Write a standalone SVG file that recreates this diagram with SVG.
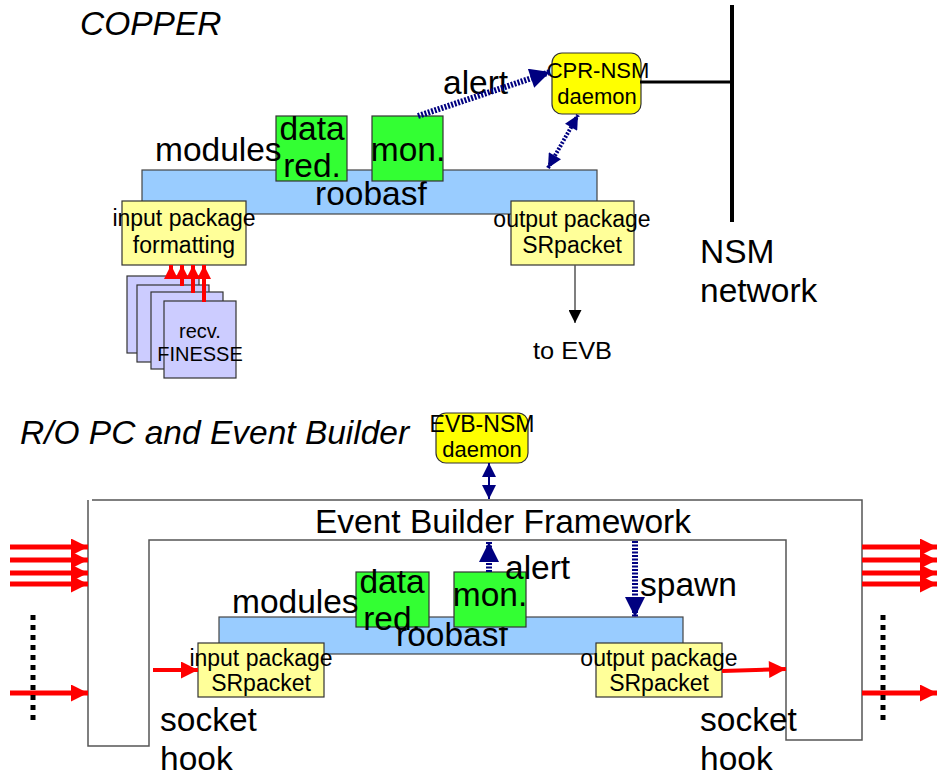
<svg xmlns="http://www.w3.org/2000/svg" width="937" height="778" viewBox="0 0 937 778">
<style>
text{font-family:"Liberation Sans",Arial,sans-serif;fill:#000}
.big{font-size:33.5px}
.mid{font-size:23px}
.dm{font-size:22px}
.sm{font-size:20px}
.it{font-style:italic}
.bar{fill:#99ccff;stroke:#444;stroke-width:1.2}
.mod{fill:#33ff33;stroke:#333;stroke-width:1.2}
.pkg{fill:#ffff99;stroke:#333;stroke-width:1.2}
.dmn{fill:#ffff00;stroke:#333;stroke-width:1.2}
.recv{fill:#ccccff;stroke:#333;stroke-width:1.2}
.red{stroke:#ff0000;fill:none}
.navy{stroke:#000080;fill:none}
.frame{fill:none;stroke:#555;stroke-width:1.5}
</style>
<defs>
<marker id="nav" viewBox="0 0 10 10" refX="10" refY="5" markerWidth="22" markerHeight="20" markerUnits="userSpaceOnUse" orient="auto-start-reverse"><path d="M0,0L10,5L0,10z" fill="#000080"/></marker>
<marker id="navs" viewBox="0 0 10 10" refX="10" refY="5" markerWidth="18" markerHeight="14" markerUnits="userSpaceOnUse" orient="auto-start-reverse"><path d="M0,0L10,5L0,10z" fill="#000080"/></marker>
<marker id="redL" viewBox="0 0 10 10" refX="10" refY="5" markerWidth="28" markerHeight="17" markerUnits="userSpaceOnUse" orient="auto"><path d="M0,0L10,5L0,10z" fill="#ff0000"/></marker>
<marker id="redS" viewBox="0 0 10 10" refX="10" refY="5" markerWidth="15" markerHeight="14" markerUnits="userSpaceOnUse" orient="auto"><path d="M0,0L10,5L0,10z" fill="#ff0000"/></marker>
<marker id="blk" viewBox="0 0 10 10" refX="10" refY="5" markerWidth="22" markerHeight="13" markerUnits="userSpaceOnUse" orient="auto"><path d="M0,0L10,5L0,10z" fill="#000"/></marker>
</defs>

<!-- titles -->
<text class="big it" x="80" y="35">COPPER</text>
<text class="big it" x="20" y="444">R/O PC and Event Builder</text>

<!-- NSM network -->
<g id="nsm-network">
<line x1="732" y1="5" x2="732" y2="222" stroke="#000" stroke-width="4"/>
<text class="big" x="700" y="263">NSM</text>
<text class="big" x="700" y="302">network</text>
</g>

<!-- ===== COPPER ===== -->
<g id="roobasf-top">
<rect class="bar" x="142" y="170" width="455" height="44"/>
<text class="big" x="315" y="205">roobasf</text>
</g>
<g id="datared-top">
<rect class="mod" x="276" y="116" width="71" height="65"/>
<text class="big" x="312" y="140" text-anchor="middle">data</text>
<text class="big" x="312" y="177" text-anchor="middle">red.</text>
</g>
<g id="mon-top">
<rect class="mod" x="372" y="116" width="71" height="65"/>
<text class="big" x="408" y="161" text-anchor="middle">mon.</text>
</g>
<text class="big" x="155" y="161">modules</text>
<g id="input-top">
<rect class="pkg" x="122" y="201" width="124" height="64"/>
<text class="mid" x="184" y="226" text-anchor="middle">input package</text>
<text class="mid" x="184" y="253" text-anchor="middle">formatting</text>
</g>
<g id="output-top">
<rect class="pkg" x="511" y="201" width="123" height="64"/>
<text class="mid" x="572" y="227" text-anchor="middle">output package</text>
<text class="mid" x="572" y="253" text-anchor="middle">SRpacket</text>
</g>
<g id="cpr-nsm">
<rect class="dmn" x="552" y="53" width="89" height="61" rx="10"/>
<text class="dm" x="598" y="78" text-anchor="middle">CPR-NSM</text>
<text class="dm" x="597" y="104" text-anchor="middle">daemon</text>
</g>
<g id="recv">
<rect class="recv" x="127" y="276" width="72" height="77"/>
<rect class="recv" x="137" y="285" width="72" height="77"/>
<rect class="recv" x="151" y="292" width="72" height="77"/>
<rect class="recv" x="164" y="301" width="72" height="77"/>
<text class="sm" x="200" y="338" text-anchor="middle">recv.</text>
<text class="sm" x="200" y="361" text-anchor="middle">FINESSE</text>
</g>
<text class="mid" x="533" y="359" textLength="79" lengthAdjust="spacingAndGlyphs">to EVB</text>
<text class="big" x="443" y="94">alert</text>

<g id="connectors-top">
<line x1="640" y1="82" x2="732" y2="82" stroke="#000" stroke-width="3"/>
<line class="navy" x1="418" y1="116" x2="550" y2="72" stroke-width="6" stroke-dasharray="2,1.5" marker-end="url(#nav)"/>
<line class="navy" x1="548" y1="168" x2="578" y2="115" stroke-width="4" stroke-dasharray="2,1.5" marker-start="url(#navs)" marker-end="url(#navs)"/>
<line x1="575" y1="265" x2="575" y2="323" stroke="#555" stroke-width="1.5" marker-end="url(#blk)"/>
<line class="red" x1="171" y1="276" x2="171" y2="265" stroke-width="4" marker-end="url(#redS)"/>
<line class="red" x1="182" y1="286" x2="182" y2="265" stroke-width="4" marker-end="url(#redS)"/>
<line class="red" x1="193" y1="293" x2="193" y2="265" stroke-width="4" marker-end="url(#redS)"/>
<line class="red" x1="204" y1="302" x2="204" y2="265" stroke-width="4" marker-end="url(#redS)"/>
</g>

<!-- ===== EVB ===== -->
<g id="framework">
<path class="frame" d="M92,500 L862,500 L862,740 L786,740 L786,540 L149,540 L149,746 L88,746 L88,500"/>
<text class="big" x="503" y="533" text-anchor="middle">Event Builder Framework</text>
</g>
<g id="evb-nsm">
<rect class="dmn" x="436" y="413" width="92" height="50" rx="10"/>
<text class="mid" x="482" y="432" text-anchor="middle">EVB-NSM</text>
<text class="dm" x="482" y="457" text-anchor="middle">daemon</text>
</g>
<g id="roobasf-bot">
<rect class="bar" x="219" y="617" width="464" height="37"/>
<text class="big" x="396" y="646">roobasf</text>
</g>
<g id="datared-bot">
<rect class="mod" x="356" y="572" width="73" height="55"/>
<text class="big" x="392" y="593" text-anchor="middle">data</text>
<text class="big" x="392" y="630" text-anchor="middle">red.</text>
</g>
<g id="mon-bot">
<rect class="mod" x="454" y="572" width="72" height="55"/>
<text class="big" x="490" y="606" text-anchor="middle">mon.</text>
</g>
<text class="big" x="232" y="613">modules</text>
<g id="input-bot">
<rect class="pkg" x="198" y="643" width="126" height="54"/>
<text class="mid" x="261" y="666" text-anchor="middle">input package</text>
<text class="mid" x="261" y="691" text-anchor="middle">SRpacket</text>
</g>
<g id="output-bot">
<rect class="pkg" x="596" y="643" width="126" height="54"/>
<text class="mid" x="659" y="666" text-anchor="middle">output package</text>
<text class="mid" x="659" y="691" text-anchor="middle">SRpacket</text>
</g>
<text class="big" x="505" y="579">alert</text>
<text class="big" x="640" y="596">spawn</text>
<text class="big" x="160" y="731">socket</text>
<text class="big" x="160" y="770">hook</text>
<text class="big" x="700" y="731">socket</text>
<text class="big" x="700" y="770">hook</text>

<g id="connectors-bot">
<line class="navy" x1="489" y1="481" x2="489" y2="463" stroke-width="2" marker-end="url(#navs)"/>
<line class="navy" x1="489" y1="481" x2="489" y2="499" stroke-width="2" marker-end="url(#navs)"/>
<line class="navy" x1="489" y1="572" x2="489" y2="542" stroke-width="6" stroke-dasharray="2,1.5" marker-end="url(#nav)"/>
<line class="navy" x1="635" y1="541" x2="635" y2="617" stroke-width="6" stroke-dasharray="2,1.5" marker-end="url(#nav)"/>
<line class="red" x1="153" y1="670" x2="198" y2="670" stroke-width="4" marker-end="url(#redL)"/>
<line class="red" x1="722" y1="671" x2="786" y2="669" stroke-width="4" marker-end="url(#redL)"/>
<line class="red" x1="10" y1="547" x2="88" y2="547" stroke-width="5" marker-end="url(#redL)"/>
<line class="red" x1="10" y1="560" x2="88" y2="560" stroke-width="5" marker-end="url(#redL)"/>
<line class="red" x1="10" y1="573" x2="88" y2="573" stroke-width="5" marker-end="url(#redL)"/>
<line class="red" x1="10" y1="584" x2="88" y2="584" stroke-width="5" marker-end="url(#redL)"/>
<line class="red" x1="10" y1="693" x2="88" y2="693" stroke-width="5" marker-end="url(#redL)"/>
<line class="red" x1="862" y1="547" x2="937" y2="547" stroke-width="5" marker-end="url(#redL)"/>
<line class="red" x1="862" y1="560" x2="937" y2="560" stroke-width="5" marker-end="url(#redL)"/>
<line class="red" x1="862" y1="573" x2="937" y2="573" stroke-width="5" marker-end="url(#redL)"/>
<line class="red" x1="862" y1="584" x2="937" y2="584" stroke-width="5" marker-end="url(#redL)"/>
<line class="red" x1="862" y1="693" x2="937" y2="693" stroke-width="5" marker-end="url(#redL)"/>
<line x1="33" y1="615" x2="33" y2="720" stroke="#000" stroke-width="5" stroke-dasharray="5,5"/>
<line x1="883" y1="615" x2="883" y2="720" stroke="#000" stroke-width="5" stroke-dasharray="5,5"/>
</g>
</svg>
